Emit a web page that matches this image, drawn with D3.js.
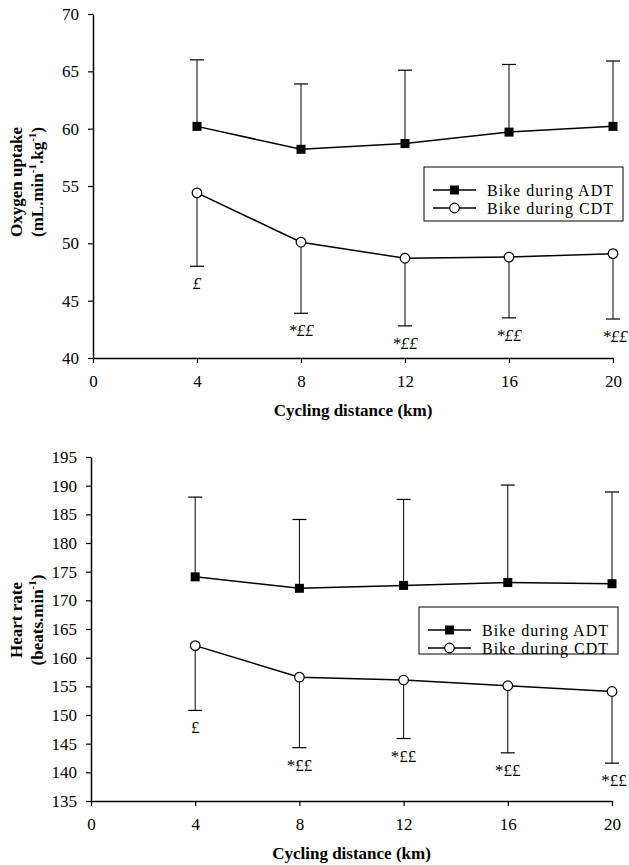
<!DOCTYPE html>
<html>
<head>
<meta charset="utf-8">
<script src="https://cdn.jsdelivr.net/npm/d3@7"></script>
<style>
  body { margin: 0; background: #fff; }
  svg { display: block; }
  svg text { font-family: "Liberation Serif", "Times New Roman", Times, "DejaVu Serif", serif; fill: #000; }
</style>
</head>
<body>
<div class="wrapper"></div>
<script>
const distance = [4, 8, 12, 16, 20]
const xTicks = [0, 4, 8, 12, 16, 20]
const seriesNames = ['Bike during ADT', 'Bike during CDT']

// oxygen uptake (mL.min-1.kg-1), mean and SD
const vo2Adt = [60.2, 58.2, 58.7, 59.7, 60.2]
const vo2AdtSd = [5.8, 5.7, 6.4, 5.9, 5.7]
const vo2Cdt = [54.4, 50.1, 48.7, 48.8, 49.1]
const vo2CdtSd = [6.4, 6.2, 5.9, 5.3, 5.7]
const vo2Ticks = [40, 45, 50, 55, 60, 65, 70]

// heart rate (beats.min-1), mean and SD
const hrAdt = [174.1, 172.1, 172.6, 173.1, 172.9]
const hrAdtSd = [13.9, 12.0, 15.0, 17.0, 16.0]
const hrCdt = [162.1, 156.6, 156.1, 155.1, 154.1]
const hrCdtSd = [11.3, 12.3, 10.2, 11.7, 12.5]
const hrTicks = [135, 140, 145, 150, 155, 160, 165, 170, 175, 180, 185, 190, 195]

const sigLabels = ['£', '*££', '*££', '*££', '*££']

const width = 629, height = 865

const svg = d3.select('.wrapper')
  .append('svg')
  .attr('width', width)
  .attr('height', height)
  .attr('font-family', '"Liberation Serif", "Times New Roman", Times, serif')

drawPanel({
  x0: 93, x1: 613, yTop: 14, yBottom: 358,
  ticks: vo2Ticks, adt: vo2Adt, adtSd: vo2AdtSd, cdt: vo2Cdt, cdtSd: vo2CdtSd,
  italicSig: true,
  labelLines: [['Oxygen uptake'], ['(mL.min', '-1', '.kg', '-1', ')']],
  labelY: 182,
  legend: { x: 424, y: 167, w: 199, h: 54 }
})

drawPanel({
  x0: 91, x1: 612, yTop: 457, yBottom: 801,
  ticks: hrTicks, adt: hrAdt, adtSd: hrAdtSd, cdt: hrCdt, cdtSd: hrCdtSd,
  italicSig: false,
  labelLines: [['Heart rate'], ['(beats.min', '-1', ')']],
  labelY: 620,
  legend: { x: 419, y: 607, w: 199, h: 47 }
})

function drawPanel(c) {
  const x = d3.scaleLinear().domain([0, 20]).range([c.x0, c.x1])
  const y = d3.scaleLinear().domain(d3.extent(c.ticks)).range([c.yBottom, c.yTop])
  const g = svg.append('g')

  // axes
  const yAxis = g.append('g')
    .attr('transform', `translate(${c.x0},0)`)
    .call(d3.axisLeft(y).tickValues(c.ticks).tickSize(5).tickSizeOuter(0).tickPadding(9))
  const xAxis = g.append('g')
    .attr('transform', `translate(0,${c.yBottom})`)
    .call(d3.axisBottom(x).tickValues(xTicks).tickSize(5).tickSizeOuter(0).tickPadding(12))
  for (const ax of [yAxis, xAxis]) {
    ax.attr('font-family', null).attr('font-size', null)
    ax.select('.domain').attr('stroke-width', 1.5)
    ax.selectAll('.tick line').attr('stroke-width', 1.2)
    ax.selectAll('.tick text').style('font-size', '17px')
  }

  // error bars
  const bars = [
    { v: c.adt, sd: c.adtSd, dir: 1 },
    { v: c.cdt, sd: c.cdtSd, dir: -1 }
  ]
  bars.forEach(b => {
    const eg = g.append('g').selectAll('g').data(distance).enter().append('g')
    eg.append('line')
      .attr('x1', d => x(d)).attr('x2', d => x(d))
      .attr('y1', (d, i) => y(b.v[i]))
      .attr('y2', (d, i) => y(b.v[i] + b.dir * b.sd[i]))
      .attr('stroke', '#000').attr('stroke-width', 1)
    eg.append('line')
      .attr('x1', d => x(d) - 7).attr('x2', d => x(d) + 7)
      .attr('y1', (d, i) => y(b.v[i] + b.dir * b.sd[i]))
      .attr('y2', (d, i) => y(b.v[i] + b.dir * b.sd[i]))
      .attr('stroke', '#000').attr('stroke-width', 1.2)
  })

  // significance labels under the CDT bars
  g.append('g').selectAll('text').data(distance).enter().append('text')
    .attr('x', d => x(d) + (d === 20 ? 2 : 0))
    .attr('y', (d, i) => y(c.cdt[i] - c.cdtSd[i]) + 23)
    .attr('text-anchor', 'middle')
    .style('font-size', '17px')
    .style('font-style', c.italicSig ? 'italic' : 'normal')
    .text((d, i) => sigLabels[i])

  // lines and markers
  const line = d3.line().x(d => x(d[0])).y(d => y(d[1]))
  ;[c.adt, c.cdt].forEach((vals, si) => {
    const pts = distance.map((d, i) => [d, vals[i]])
    g.append('path')
      .attr('d', line(pts))
      .attr('fill', 'none').attr('stroke', '#000').attr('stroke-width', 1.5)
    const mg = g.append('g').selectAll('g').data(pts).enter().append('g')
      .attr('transform', d => `translate(${x(d[0])},${y(d[1])})`)
    drawMarker(mg, si)
  })

  // legend
  const lg = g.append('g').attr('transform', `translate(${c.legend.x},${c.legend.y})`)
  lg.append('rect')
    .attr('width', c.legend.w).attr('height', c.legend.h)
    .attr('fill', '#fff').attr('stroke', '#000').attr('stroke-width', 1)
  seriesNames.forEach((name, i) => {
    const ry = 23 + i * 18
    lg.append('line')
      .attr('x1', 9).attr('x2', 52).attr('y1', ry).attr('y2', ry)
      .attr('stroke', '#000').attr('stroke-width', 1.5)
    drawMarker(lg.append('g').attr('transform', `translate(30.5,${ry})`), i)
    lg.append('text')
      .attr('x', 63).attr('y', ry + 5.5)
      .attr('textLength', 126).attr('lengthAdjust', 'spacing')
      .style('font-size', '16px')
      .text(name)
  })

  // axis titles
  g.append('text')
    .attr('x', (c.x0 + c.x1) / 2)
    .attr('y', c.yBottom + 58)
    .attr('text-anchor', 'middle')
    .style('font-size', '17px').style('font-weight', 'bold')
    .text('Cycling distance (km)')

  c.labelLines.forEach((parts, li) => {
    const t = g.append('text')
      .attr('transform', `translate(${22 + li * 21},${c.labelY}) rotate(-90)`)
      .attr('text-anchor', 'middle')
      .style('font-size', '17px').style('font-weight', 'bold')
    parts.forEach((p, pi) => {
      const sup = pi % 2 === 1
      t.append('tspan')
        .attr('dy', sup ? -7 : (pi > 0 ? 7 : 0))
        .style('font-size', sup ? '11px' : '17px')
        .text(p)
    })
  })
}

function drawMarker(sel, si) {
  if (si === 0) {
    sel.append('rect')
      .attr('x', -4.5).attr('y', -4.5).attr('width', 9).attr('height', 9)
      .attr('fill', '#000')
  } else {
    sel.append('circle')
      .attr('r', 4.8)
      .attr('fill', '#fff').attr('stroke', '#000').attr('stroke-width', 1.2)
  }
}
</script>
</body>
</html>
